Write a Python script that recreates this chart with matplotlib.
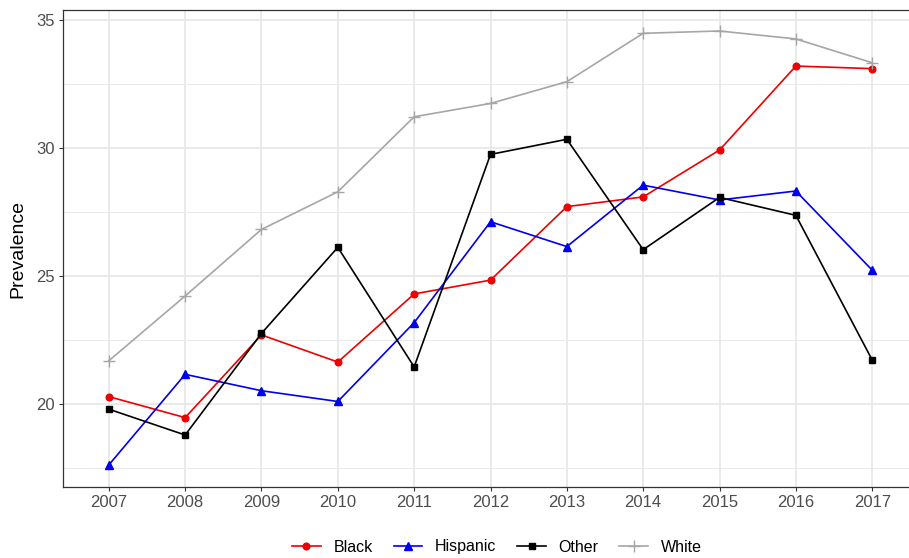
import matplotlib
matplotlib.use("Agg")
import matplotlib.pyplot as plt
from matplotlib.ticker import MultipleLocator

plt.rcParams['font.family'] = ['Liberation Sans', 'DejaVu Sans']

years = [2007, 2008, 2009, 2010, 2011, 2012, 2013, 2014, 2015, 2016, 2017]
black = [20.29, 19.47, 22.70, 21.64, 24.30, 24.84, 27.71, 28.09, 29.92, 33.20, 33.10]
hispanic = [17.62, 21.16, 20.52, 20.10, 23.18, 27.12, 26.15, 28.55, 27.97, 28.32, 25.23]
other = [19.80, 18.79, 22.76, 26.12, 21.45, 29.75, 30.34, 26.03, 28.07, 27.37, 21.72]
white = [21.69, 24.22, 26.82, 28.29, 31.22, 31.74, 32.59, 34.48, 34.57, 34.26, 33.33]

fig = plt.figure(figsize=(9.09, 5.58), dpi=100)
# panel runs a bit past the right edge of the figure
ax = fig.add_axes([63/909, 71/558, 855/909, 477/558])

lw = 1.2
ax.plot(years, black, color='#EE0000', lw=lw, marker='o', ms=4.8, label='Black')
ax.plot(years, hispanic, color='#0000EE', lw=lw, marker='^', ms=6, label='Hispanic')
ax.plot(years, other, color='black', lw=lw, marker='s', ms=5, label='Other')
ax.plot(years, white, color='#A6A6A6', lw=lw, marker='+', ms=9, mew=1.0, label='White')

ax.set_xlim(2006.4, 2017.6)
ax.set_ylim(16.76, 35.39)
ax.set_xticks(years)
ax.set_xticklabels([str(y) for y in years])
ax.yaxis.set_major_locator(MultipleLocator(5))
ax.yaxis.set_minor_locator(MultipleLocator(2.5))

ax.grid(which='major', color='#E6E6E6', lw=1.2)
ax.grid(which='minor', axis='y', color='#E9E9E9', lw=0.7)
ax.set_axisbelow(True)

for s in ax.spines.values():
    s.set_color('#333333')
    s.set_linewidth(0.9)
ax.spines['right'].set_visible(False)

ax.tick_params(which='major', length=3, width=0.8, color='#333333',
               labelsize=12, labelcolor='#4D4D4D', pad=3)
ax.tick_params(which='minor', length=0)

ax.set_ylabel('Prevalence', fontsize=14, labelpad=7)

fig.legend(loc='center', bbox_to_anchor=(497/909, 11/558), ncol=4, frameon=False,
           fontsize=11.5, handlelength=1.8, handletextpad=0.8, columnspacing=1.3)

fig.savefig('out.png', dpi=100)
